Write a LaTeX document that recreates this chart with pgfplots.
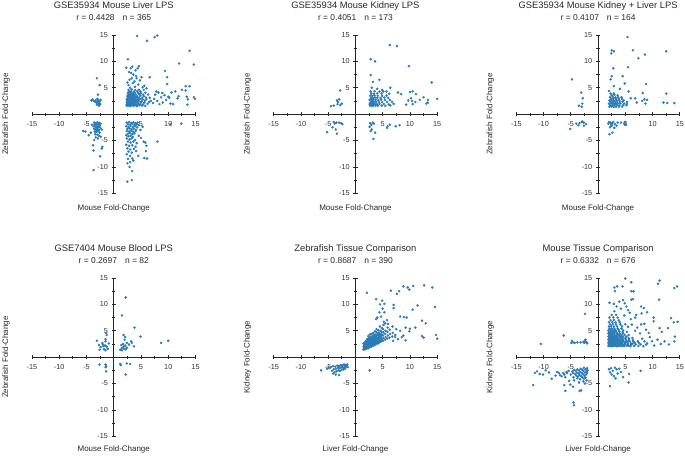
\documentclass[border=0pt]{standalone}
\usepackage{fontspec}
\setmainfont{Liberation Sans}
\usepackage{pgfplots}
\pgfplotsset{compat=1.18}
\definecolor{dotblue}{RGB}{44,123,182}
\definecolor{txt}{RGB}{40,40,40}
\newcommand\ftitle{\fontsize{9.4}{11}\selectfont}
\newcommand\fr{\fontsize{8.5}{10}\selectfont}
\newcommand\flab{\fontsize{8}{9.6}\selectfont}
\pgfplotsset{panel/.style={
  scale only axis, width=163.5bp, height=158.3bp,
  xmin=-15,xmax=15,ymin=-15,ymax=15,
  axis lines=middle, axis line style={-, line width=0.8bp, black!85},
  xtick={-15,-10,-5,5,10,15}, xticklabels={-15,-10,-5,5,10,15},
  ytick={-15,-10,-5,5,10,15}, yticklabels={-15,-10,-5,5,10,15},
  minor xtick={-12.5,-7.5,-2.5,2.5,7.5,12.5},
  minor ytick={-12.5,-7.5,-2.5,2.5,7.5,12.5},
  tick align=center, major tick length=4.5bp, minor tick length=3.2bp,
  every tick/.style={black!85, line width=0.8bp},
  tick label style={font=\fontsize{7.3}{8.5}\selectfont, text=black!80},
  xticklabel style={yshift=-2bp},
  clip=false, anchor=south west,
},
dots/.style={color=dotblue, only marks, mark=*, mark size=1.05bp, mark options={draw=none, fill=dotblue}}}
\begin{document}
\begin{tikzpicture}
\path[use as bounding box] (0,0) rectangle (685bp,457bp);
% ---------- Panel 1
\begin{axis}[panel, at={(32bp,263.7bp)}]
\addplot[dots] coordinates {
(4.3,14.8)(6.1,13.9)(7.5,14.6)(8.0,14.9)(13.9,12.0)(14.7,9.4)(12.0,9.6)(2.6,10.4)(2.3,8.8)(3.1,8.7)
(4.0,8.3)(4.6,9.1)(4.4,8.7)(3.4,9.0)(6.6,7.0)(9.4,8.2)(9.8,7.0)(9.8,5.7)(13.2,5.3)(13.9,5.3)
(13.2,4.5)(3.6,7.5)(3.3,6.8)(2.9,6.5)(3.8,6.2)(4.1,7.2)(5.1,7.0)(3.5,5.9)(4.5,5.6)(2.7,5.5)
(5.6,5.4)(3.9,5.2)(4.8,6.4)(3.0,5.0)(6.0,4.9)(5.3,5.1)(2.5,6.0)(4.2,6.8)(3.2,7.8)(2.8,8.0)
(2.4,1.55)(2.7,1.65)(3.0,1.5)(3.3,1.7)(3.6,1.58)(3.9,1.66)(4.3,1.52)(4.7,1.7)(5.2,1.6)(5.8,1.55)
(2.5,1.92)(2.8,1.85)(3.1,1.98)(3.4,1.88)(3.7,1.95)(4.0,1.84)(4.4,1.96)(4.9,1.9)(5.4,1.86)(6.2,1.95)
(2.4,2.2)(2.6,2.28)(2.9,2.15)(3.2,2.25)(3.5,2.18)(3.8,2.3)(4.1,2.2)(4.5,2.14)(5.0,2.26)(5.6,2.2)(6.5,2.3)
(2.5,2.5)(2.8,2.44)(3.0,2.58)(3.3,2.48)(3.6,2.55)(3.9,2.45)(4.2,2.6)(4.6,2.5)(5.1,2.42)(5.7,2.56)(6.8,2.5)
(2.4,2.82)(2.7,2.76)(3.1,2.86)(3.4,2.78)(3.7,2.9)(4.0,2.8)(4.4,2.74)(4.8,2.88)(5.3,2.8)(6.0,2.84)
(2.6,3.1)(2.9,3.16)(3.2,3.05)(3.5,3.14)(3.8,3.08)(4.2,3.18)(4.6,3.1)(5.2,3.04)(5.9,3.15)(6.6,3.1)
(2.5,3.42)(2.8,3.36)(3.1,3.46)(3.4,3.38)(3.8,3.44)(4.3,3.35)(4.9,3.45)(5.5,3.4)
(2.7,3.7)(3.0,3.76)(3.3,3.66)(3.7,3.74)(4.1,3.68)(4.7,3.75)(5.4,3.7)(6.3,3.72)
(2.6,4.0)(3.0,4.06)(3.5,3.96)(3.9,4.04)(4.5,4.0)(5.0,3.95)(5.8,4.05)
(2.8,4.3)(3.2,4.36)(3.7,4.26)(4.3,4.34)(4.9,4.3)(2.7,4.6)(3.3,4.66)(3.9,4.56)(4.6,4.62)(5.5,4.6)
(2.55,2.0)(2.85,2.35)(3.15,2.65)(3.45,2.05)(3.75,2.4)(2.65,3.0)(2.95,3.3)(3.25,2.9)(3.55,3.55)(3.05,1.75)
(3.35,2.1)(2.45,2.65)(3.65,2.75)(3.85,3.25)(4.25,2.35)(4.55,2.95)(2.75,3.55)(3.15,3.95)(4.05,1.75)(2.35,1.75)
(7.8,4.3)(8.2,4.1)(8.7,3.2)(8.9,4.0)(9.3,3.6)(9.6,2.7)(10.0,3.3)(10.2,3.1)(10.4,2.0)(10.9,1.9)
(11.3,4.3)(11.7,3.0)(12.5,4.6)(13.4,3.3)(13.6,2.8)(13.5,1.8)(14.7,3.2)(14.9,2.9)(8.0,2.5)(7.4,2.9)
(9.0,2.2)(10.6,4.1)(11.9,3.4)(7.6,3.7)(7.2,2.1)(8.4,1.9)
(-4.1,2.6)(-3.9,2.8)(-3.7,2.5)(-3.0,2.9)(-2.8,2.6)(-2.6,2.4)(-3.2,2.2)(-2.9,2.0)(-2.5,1.9)(-3.1,1.8)
(-2.7,2.2)(-3.3,2.6)(-2.4,2.7)(-3.5,2.4)(-2.6,1.8)(-3.1,6.8)(-2.6,5.5)(-2.9,3.7)(-2.9,2.4)(-2.7,1.6)
(-3.6,-1.6)(-3.3,-1.7)(-3.0,-1.55)(-2.7,-1.65)(-2.4,-1.8)(-3.5,-2.0)(-3.2,-2.1)(-2.9,-1.95)(-2.6,-2.15)(-3.4,-2.4)
(-3.1,-2.5)(-2.8,-2.35)(-2.5,-2.55)(-3.6,-2.8)(-3.3,-2.9)(-3.0,-2.75)(-2.7,-3.0)(-3.5,-3.3)(-3.2,-3.4)(-2.9,-3.2)
(-2.6,-3.5)(-3.4,-3.8)(-3.0,-3.9)(-2.7,-4.1)(-3.3,-4.4)(-2.9,-4.6)(-3.6,-4.9)(-2.4,-4.3)(-2.2,-2.9)(-3.7,-2.3)
(-2.8,-1.8)(-3.1,-3.1)(-5.2,-3.3)(-4.6,-4.0)(-5.6,-3.2)(-3.7,-6.9)(-2.5,-8.0)(-2.1,-6.2)(-3.8,-5.9)(-2.2,-6.5)
(-3.7,-10.6)(-4.2,-3.5)(-4.0,-2.0)
(2.4,-1.6)(2.8,-1.5)(3.2,-1.65)(3.6,-1.55)(4.0,-1.7)(4.4,-1.6)(2.6,-1.9)(3.0,-2.0)(3.4,-1.85)(3.8,-2.05)
(4.2,-1.95)(4.6,-2.1)(2.3,-2.3)(2.7,-2.4)(3.1,-2.25)(3.5,-2.45)(3.9,-2.3)(4.3,-2.5)(2.5,-2.8)(2.9,-2.7)
(3.3,-2.9)(3.7,-2.75)(4.1,-2.95)(2.4,-3.2)(2.8,-3.3)(3.2,-3.15)(3.6,-3.35)(4.0,-3.2)(2.6,-3.7)(3.0,-3.6)
(3.4,-3.8)(3.8,-3.65)(2.3,-4.0)(2.7,-4.2)(3.1,-4.1)(3.5,-4.3)
(2.4,-4.6)(2.9,-4.8)(3.3,-4.6)(3.9,-4.9)(2.6,-5.2)(3.1,-5.4)(3.6,-5.2)(4.2,-5.5)(2.3,-5.8)(2.8,-6.0)
(3.4,-5.9)(4.0,-6.2)(2.5,-6.5)(3.0,-6.7)(3.7,-6.6)(2.7,-7.1)(3.3,-7.3)(4.1,-7.0)(2.4,-7.6)(3.0,-7.9)
(2.6,-8.5)(3.4,-8.4)(2.5,-9.3)(3.0,-9.1)(3.6,-8.8)(3.4,-10.8)(2.5,-12.8)(3.3,-12.5)(2.9,-10.0)(4.5,-7.9)
(5.5,-5.2)(5.8,-5.4)(6.0,-6.0)(5.9,-7.0)(6.1,-8.4)(5.6,-8.3)(8.0,-5.2)(4.9,-3.0)(5.0,-4.5)(4.6,-4.1)
(5.3,-2.4)(10.4,-1.9)(12.4,-1.8)
};
\node[anchor=base,font=\ftitle,text=txt] at ([yshift=26.7bp]rel axis cs:0.5,1) {GSE35934 Mouse Liver LPS};
\node[anchor=base,font=\fr,text=txt] at ([yshift=14.3bp]rel axis cs:0.5,1) {r = 0.4428\hspace{8bp}n = 365};
\node[anchor=base,font=\flab,text=txt] at ([yshift=-17.5bp]rel axis cs:0.5,0) {Mouse Fold-Change};
\node[anchor=base,font=\flab,text=txt,rotate=90] at ([xshift=-24bp]rel axis cs:0,0.5) {Zebrafish Fold-Change};
\end{axis}
% ---------- Panel 2
\begin{axis}[panel, at={(273.7bp,263.7bp)}]
\addplot[dots] coordinates {
(6.3,13.1)(7.6,12.9)(2.8,10.4)(3.6,10.0)(9.8,9.1)(2.8,7.4)(3.2,6.1)(4.4,6.5)(14.0,6.0)(6.4,5.0)
(3.0,5.0)(4.0,4.8)(4.9,4.6)(5.7,4.3)(7.8,4.1)(8.4,3.8)(10.0,4.2)(10.5,4.3)(11.1,3.8)(12.5,3.2)
(13.3,2.7)(13.3,2.2)(15.0,2.9)(13.0,2.0)(10.2,3.0)(9.7,2.6)(10.4,2.5)(11.0,2.3)(11.8,2.7)(9.3,1.8)(10.5,1.9)
(2.7,1.6)(3.0,1.55)(3.3,1.65)(3.7,1.6)(4.1,1.58)(4.8,1.62)(5.5,1.56)(6.4,1.64)
(2.6,1.9)(2.9,1.95)(3.2,1.86)(3.5,1.92)(3.9,1.88)(4.4,1.94)(5.2,1.9)(6.1,1.85)(7.0,1.95)
(2.8,2.3)(3.1,2.25)(3.4,2.35)(3.8,2.28)(4.3,2.32)(4.9,2.26)(5.8,2.3)(6.7,2.34)
(2.6,2.7)(3.0,2.66)(3.3,2.74)(3.7,2.7)(4.2,2.65)(4.7,2.75)(5.4,2.7)(6.3,2.68)
(2.9,3.1)(3.2,3.06)(3.6,3.14)(4.0,3.1)(4.6,3.05)(5.3,3.15)(6.0,3.1)
(2.7,3.5)(3.1,3.45)(3.5,3.55)(4.1,3.5)(4.9,3.46)(5.7,3.52)
(2.9,3.9)(3.4,3.86)(4.0,3.94)(4.8,3.9)(6.2,3.88)(2.8,4.3)(3.5,4.35)(4.4,4.25)(5.1,4.3)
(2.75,2.1)(3.05,2.5)(3.35,2.0)(2.85,2.9)(3.15,1.75)
(-2.8,4.5)(-3.0,2.8)(-3.2,2.3)(-3.3,1.9)(-2.8,1.7)(-4.0,1.6)(-4.5,1.5)(-2.5,2.0)(-3.4,2.6)
(-4.0,-1.5)(-3.5,-1.6)(-3.0,-1.6)(-2.6,-1.7)(-5.2,-3.4)(-3.6,-2.9)(-3.4,-3.7)(-4.2,-2.5)(-3.8,-1.8)(-2.4,-1.9)
(2.7,-1.7)(2.9,-2.0)(3.2,-1.6)(2.6,-2.4)(3.0,-2.9)(2.8,-3.2)(3.4,-1.8)(3.6,-3.5)(3.3,-4.7)(5.9,-2.3)
(6.3,-2.0)(7.4,-2.3)(8.1,-2.1)(5.8,-2.6)
};
\node[anchor=base,font=\ftitle,text=txt] at ([yshift=26.7bp]rel axis cs:0.5,1) {GSE35934 Mouse Kidney LPS};
\node[anchor=base,font=\fr,text=txt] at ([yshift=14.3bp]rel axis cs:0.5,1) {r = 0.4051\hspace{8bp}n = 173};
\node[anchor=base,font=\flab,text=txt] at ([yshift=-17.5bp]rel axis cs:0.5,0) {Mouse Fold-Change};
\node[anchor=base,font=\flab,text=txt,rotate=90] at ([xshift=-24bp]rel axis cs:0,0.5) {Zebrafish Fold-Change};
\end{axis}
% ---------- Panel 3
\begin{axis}[panel, at={(516.3bp,263.7bp)}]
\addplot[dots] coordinates {
(5.4,14.6)(2.5,12.1)(2.9,11.9)(2.4,11.5)(6.4,12.1)(12.5,11.9)(8.6,11.3)(7.4,10.6)(5.5,8.9)(2.8,8.7)
(2.5,7.2)(2.3,6.6)(4.5,7.2)(-4.8,6.6)(8.8,5.7)(4.9,5.8)(2.9,5.3)(4.0,4.8)(2.0,4.4)(-3.1,4.1)
(-2.8,3.0)(12.5,3.9)(8.2,4.0)(5.6,4.3)(-2.9,2.0)(-3.0,1.4)(-3.5,1.6)(12.0,2.2)(12.7,2.1)(14.0,2.1)
(8.5,2.8)(9.0,2.7)(8.7,2.0)(8.1,2.5)(6.0,3.0)(6.8,3.0)(7.1,2.2)(5.3,1.9)
(2.1,1.4)(2.5,1.45)(2.9,1.36)(3.3,1.42)(3.8,1.38)(4.4,1.44)
(2.2,1.7)(2.6,1.66)(3.0,1.74)(3.4,1.7)(3.9,1.65)(4.6,1.72)(5.2,1.68)
(2.0,2.0)(2.4,2.05)(2.8,1.96)(3.2,2.02)(3.6,1.98)(4.1,2.04)(4.8,2.0)
(2.3,2.3)(2.7,2.26)(3.1,2.34)(3.5,2.3)(4.0,2.25)(4.5,2.35)(5.3,2.3)
(2.1,2.6)(2.5,2.64)(2.9,2.56)(3.4,2.62)(3.9,2.58)(4.7,2.6)
(2.4,2.9)(2.8,2.94)(3.3,2.86)(3.8,2.92)(4.4,2.9)
(2.2,3.2)(2.7,3.25)(3.2,3.16)(3.7,3.22)(4.3,3.2)(2.5,3.6)(3.0,3.65)(3.6,3.56)(2.3,3.9)(2.9,3.95)
(-3.0,-1.5)(-2.6,-1.6)(-3.4,-1.7)(-2.2,-1.9)(-3.6,-2.1)(-4.0,-1.8)(-2.6,-2.2)(-5.1,-2.8)(-2.9,-1.4)
(2.0,-1.5)(2.3,-1.6)(2.6,-1.8)(2.8,-1.5)(3.1,-1.9)(2.5,-2.2)(2.2,-2.5)(3.4,-2.2)(4.2,-1.6)(4.8,-1.8)
(5.1,-2.0)(5.0,-1.5)(3.6,-1.6)(2.1,-3.8)(2.6,-3.5)(3.0,-2.6)(2.4,-2.0)(1.9,-1.8)
};
\node[anchor=base,font=\ftitle,text=txt] at ([yshift=26.7bp]rel axis cs:0.5,1) {GSE35934 Mouse Kidney + Liver LPS};
\node[anchor=base,font=\fr,text=txt] at ([yshift=14.3bp]rel axis cs:0.5,1) {r = 0.4107\hspace{8bp}n = 164};
\node[anchor=base,font=\flab,text=txt] at ([yshift=-17.5bp]rel axis cs:0.5,0) {Mouse Fold-Change};
\node[anchor=base,font=\flab,text=txt,rotate=90] at ([xshift=-24bp]rel axis cs:0,0.5) {Zebrafish Fold-Change};
\end{axis}
% ---------- Panel 4
\begin{axis}[panel, at={(32bp,20.7bp)}]
\addplot[dots] coordinates {
(2.2,11.3)(1.5,7.9)(3.8,5.6)(4.9,3.9)(8.7,2.7)(10.0,3.1)(1.8,4.2)(2.1,3.8)(2.0,3.3)(3.2,3.0)
(3.3,2.7)(2.4,2.7)(3.7,2.05)(1.4,2.3)(1.8,2.0)(2.1,2.2)(1.5,1.7)(1.9,1.6)(1.2,1.4)(2.4,1.8)
(1.7,2.5)(2.8,2.4)(1.5,1.3)(2.2,1.5)
(-1.4,4.6)(-1.3,4.2)(-1.5,3.4)(-1.5,3.0)(-3.1,3.1)(-2.1,2.7)(-2.0,2.4)(-1.6,2.2)(-1.3,2.0)(-2.4,1.9)
(-1.1,1.6)(-1.8,1.5)(-2.6,1.4)(-1.5,1.3)(-1.9,2.1)(-0.9,2.6)(-2.7,2.3)
(-2.6,-1.4)(-1.5,-1.4)(-1.4,-1.7)(-1.5,-1.9)(-1.4,-2.7)(1.2,-1.3)(1.3,-1.5)(2.4,-1.2)(3.0,-1.3)(2.2,-3.3)
};
\node[anchor=base,font=\ftitle,text=txt] at ([yshift=26.7bp]rel axis cs:0.5,1) {GSE7404 Mouse Blood LPS};
\node[anchor=base,font=\fr,text=txt] at ([yshift=14.3bp]rel axis cs:0.5,1) {r = 0.2697\hspace{8bp}n = 82};
\node[anchor=base,font=\flab,text=txt] at ([yshift=-15bp]rel axis cs:0.5,0) {Mouse Fold-Change};
\node[anchor=base,font=\flab,text=txt,rotate=90] at ([xshift=-24bp]rel axis cs:0,0.5) {Zebrafish Fold-Change};
\end{axis}
% ---------- Panel 5
\begin{axis}[panel, at={(273.7bp,20.7bp)}]
\addplot[dots] coordinates {
(2.1,12.2)(3.8,11.0)(4.9,10.7)(5.3,10.1)(4.5,10.0)(6.5,12.6)(7.6,12.0)(8.0,12.5)(8.8,13.4)(9.6,13.2)
(9.9,12.8)(10.6,13.5)(12.6,13.6)(14.1,13.2)(14.6,9.5)(11.4,9.8)(10.5,9.0)(7.0,9.9)(7.0,9.3)(5.0,9.2)
(4.4,8.5)(5.3,8.5)(8.2,7.7)(8.9,7.6)(9.4,7.5)(4.0,7.5)(4.7,7.7)(3.8,7.2)(5.2,6.7)(6.0,6.3)
(12.2,6.9)(12.9,6.4)(11.0,5.6)(10.0,5.4)(9.2,5.6)(9.9,4.9)(8.2,5.0)(7.5,5.3)(12.2,4.0)(14.8,4.2)
(15.0,3.5)(12.5,3.7)(9.2,3.2)(8.5,3.8)(7.8,3.4)(8.8,4.1)(6.8,5.8)(5.8,7.0)(7.3,3.8)(6.9,3.1)
(1.45,1.4)(1.55,1.7)(1.5,2.0)(1.58,2.3)(1.48,2.6)
(1.75,1.5)(1.85,1.8)(1.78,2.1)(1.82,2.4)(1.76,2.7)(1.84,3.0)
(2.05,1.6)(2.15,1.9)(2.08,2.2)(2.12,2.5)(2.06,2.8)(2.14,3.1)(2.1,3.4)
(2.35,1.7)(2.45,2.0)(2.38,2.3)(2.42,2.6)(2.36,2.9)(2.44,3.2)(2.4,3.6)(2.37,4.0)
(2.65,1.9)(2.75,2.2)(2.68,2.5)(2.72,2.8)(2.66,3.1)(2.74,3.4)(2.7,3.8)(2.67,4.3)
(2.95,2.0)(3.05,2.3)(2.98,2.6)(3.02,2.9)(2.96,3.2)(3.04,3.5)(3.0,3.9)(2.97,4.4)
(3.25,2.2)(3.35,2.5)(3.28,2.8)(3.32,3.1)(3.26,3.4)(3.34,3.7)(3.3,4.1)(3.27,4.6)
(3.55,2.3)(3.65,2.6)(3.58,2.9)(3.62,3.2)(3.56,3.5)(3.64,3.9)(3.6,4.3)(3.57,4.9)
(3.85,2.5)(3.95,2.8)(3.88,3.1)(3.92,3.4)(3.86,3.8)(3.94,4.2)(3.9,4.7)(3.87,5.3)
(4.15,2.6)(4.25,2.9)(4.18,3.3)(4.22,3.7)(4.16,4.1)(4.24,4.6)(4.2,5.1)
(4.45,2.8)(4.55,3.1)(4.48,3.5)(4.52,3.9)(4.46,4.4)(4.54,5.0)(4.5,5.8)
(4.75,3.0)(4.85,3.4)(4.78,3.8)(4.82,4.3)(4.76,4.8)(4.84,5.5)
(5.05,3.1)(5.15,3.6)(5.08,4.1)(5.12,4.7)(5.06,5.3)(5.14,6.1)
(5.45,3.3)(5.55,3.8)(5.48,4.4)(5.52,5.0)(5.46,6.4)
(5.85,3.5)(5.95,4.1)(5.88,4.8)(5.92,5.6)(6.25,3.7)(6.35,4.4)(6.28,5.2)(6.75,3.9)(6.85,4.6)(7.3,4.2)
(1.65,1.55)(1.95,1.75)(2.25,1.85)(2.55,2.15)(2.85,2.45)(3.15,2.65)(2.0,2.55)(2.3,2.75)(2.6,3.25)(2.9,3.65)
(1.6,1.85)(1.9,2.05)(2.2,2.35)(2.5,2.45)(2.8,2.65)(3.1,2.85)(3.4,3.0)(3.7,3.3)(4.0,3.6)(4.3,3.85)
(4.6,4.15)(1.7,2.55)(2.0,2.85)(2.3,3.3)(2.6,3.5)(2.9,3.05)(3.2,3.3)(3.5,3.75)(3.8,4.0)(4.1,4.4)
(2.25,2.05)(2.55,1.95)(2.85,2.15)(3.15,2.35)(3.45,2.6)(3.75,2.7)(4.05,2.95)(4.35,3.15)
(-1.5,-1.4)(-1.8,-1.5)(-2.1,-1.4)(-2.4,-1.6)(-2.7,-1.5)(-3.0,-1.7)(-3.3,-1.6)(-3.7,-1.8)(-4.1,-1.7)(-4.5,-1.9)
(-4.9,-2.0)(-1.7,-1.8)(-2.0,-1.9)(-2.3,-2.0)(-2.6,-1.9)(-2.9,-2.1)(-3.2,-2.0)(-3.6,-2.2)(-4.0,-2.3)(-1.9,-2.2)
(-2.2,-2.3)(-2.5,-2.4)(-2.8,-2.6)(-3.1,-2.5)(-3.5,-2.7)(-3.9,-2.9)(-4.3,-2.6)(-5.2,-2.2)(-6.3,-2.5)(-3.6,-3.3)
(-3.0,-3.4)(-4.1,-3.1)(-1.6,-1.6)(-2.0,-1.6)(-1.4,-1.9)(2.6,-2.5)
};
\node[anchor=base,font=\ftitle,text=txt] at ([yshift=26.7bp]rel axis cs:0.5,1) {Zebrafish Tissue Comparison};
\node[anchor=base,font=\fr,text=txt] at ([yshift=14.3bp]rel axis cs:0.5,1) {r = 0.8687\hspace{8bp}n = 390};
\node[anchor=base,font=\flab,text=txt] at ([yshift=-15bp]rel axis cs:0.5,0) {Liver Fold-Change};
\node[anchor=base,font=\flab,text=txt,rotate=90] at ([xshift=-24bp]rel axis cs:0,0.5) {Kidney Fold-Change};
\end{axis}
% ---------- Panel 6
\begin{axis}[panel, at={(516.3bp,20.7bp)}]
\addplot[dots] coordinates {
(1.9,2.1)(2.2,2.12)(2.5,2.08)(2.8,2.1)(3.1,2.14)(3.4,2.06)(3.7,2.1)(4.0,2.12)(4.4,2.08)(4.8,2.1)(5.3,2.14)(5.9,2.06)(6.6,2.1)(7.4,2.12)(8.3,2.08)
(2.0,2.4)(2.3,2.42)(2.6,2.38)(2.9,2.4)(3.2,2.44)(3.5,2.36)(3.8,2.4)(4.2,2.42)(4.6,2.38)(5.0,2.4)(5.5,2.44)(6.1,2.36)(6.9,2.4)(7.8,2.42)(8.8,2.38)
(1.9,2.7)(2.2,2.72)(2.5,2.68)(2.8,2.7)(3.1,2.74)(3.4,2.66)(3.7,2.7)(4.0,2.72)(4.4,2.68)(4.9,2.7)(5.4,2.74)(6.0,2.66)(6.7,2.7)(7.5,2.72)
(2.0,3.0)(2.3,3.02)(2.6,2.98)(2.9,3.0)(3.2,3.04)(3.5,2.96)(3.9,3.0)(4.3,3.02)(4.7,2.98)(5.2,3.0)(5.8,3.04)(6.5,2.96)(7.3,3.0)
(1.9,3.3)(2.2,3.32)(2.5,3.28)(2.8,3.3)(3.1,3.34)(3.4,3.26)(3.8,3.3)(4.2,3.32)(4.6,3.28)(5.1,3.3)(5.7,3.34)(6.4,3.26)
(2.0,3.6)(2.3,3.62)(2.6,3.58)(2.9,3.6)(3.2,3.64)(3.6,3.56)(4.0,3.6)(4.5,3.62)(5.0,3.58)(5.6,3.6)(6.3,3.64)
(1.9,3.9)(2.2,3.92)(2.5,3.88)(2.8,3.9)(3.2,3.94)(3.6,3.86)(4.1,3.9)(4.6,3.92)(5.2,3.88)
(2.0,4.2)(2.3,4.22)(2.6,4.18)(3.0,4.2)(3.4,4.24)(3.8,4.16)(4.3,4.2)(4.9,4.22)(5.6,4.18)
(1.9,4.5)(2.2,4.52)(2.6,4.48)(3.0,4.5)(3.5,4.54)(4.0,4.46)(4.6,4.5)
(2.0,4.8)(2.4,4.82)(2.8,4.78)(3.3,4.8)(3.9,4.84)(4.5,4.76)(5.3,4.8)
(1.9,5.1)(2.3,5.12)(2.7,5.08)(3.2,5.1)(3.8,5.14)(4.6,5.06)
(2.1,5.4)(2.5,5.42)(3.0,5.38)(3.6,5.4)(4.3,5.44)
(2.0,5.8)(2.4,5.82)(2.9,5.78)(3.5,5.8)(4.4,5.84)(5.5,5.76)
(2.2,6.2)(2.7,6.22)(3.3,6.18)(4.1,6.2)(5.0,6.24)(6.2,6.16)
(2.0,6.6)(2.6,6.62)(3.2,6.58)(4.0,6.6)
(2.3,7.0)(2.9,7.02)(3.8,6.98)(2.1,7.5)(2.8,7.52)(3.6,7.48)(2.5,8.0)(3.3,8.02)
(2.05,2.25)(2.35,2.55)(2.65,2.25)(2.95,2.55)(3.25,2.25)(3.55,2.55)(3.85,2.25)(4.15,2.55)(4.55,2.25)(4.95,2.55)
(5.6,2.25)(6.3,2.55)(2.05,2.85)(2.45,3.15)(2.75,2.85)(3.05,3.15)(3.35,2.85)(3.65,3.15)(4.1,2.85)(4.5,3.15)
(5.0,2.85)(5.6,3.15)(2.15,3.45)(2.55,3.75)(2.95,3.45)(3.35,3.75)(3.75,3.45)(4.25,3.75)(2.1,4.05)(2.6,4.35)
(3.1,4.05)(3.6,4.35)(2.25,4.65)(2.9,4.95)
(8.5,3.0)(9.0,2.6)(9.5,3.8)(9.9,3.0)(10.9,3.3)(12.2,3.0)(14.0,3.0)(14.1,3.9)(11.5,2.5)(13.0,2.4)
(10.3,2.2)(8.1,3.5)(7.7,4.5)(8.8,5.2)(9.3,4.6)(11.7,4.8)(12.8,5.5)(7.2,5.6)(6.8,5.0)(7.9,6.2)(8.5,6.3)
(5.0,14.9)(6.1,14.2)(3.0,13.2)(3.5,13.4)(4.5,13.4)(11.0,13.9)(11.3,14.5)(14.0,13.1)(14.5,13.4)(11.2,10.9)
(2.1,10.3)(2.9,10.1)(3.4,9.6)(3.9,10.5)(4.6,10.8)(4.9,10.2)(6.1,10.9)(6.4,11.0)(6.1,12.5)(6.5,12.5)
(7.9,9.6)(8.4,9.3)(10.2,7.5)(10.2,6.8)(11.3,5.5)(13.4,7.4)(13.9,6.6)(14.6,6.7)(3.1,12.5)(5.5,8.9)
(4.2,9.2)(5.2,9.6)(7.0,8.0)(6.8,7.5)(9.0,8.5)(8.0,8.3)(5.8,8.4)(3.0,8.7)(4.8,7.9)(6.0,7.2)
(-2.4,8.2)(-6.3,4.1)(-10.5,2.5)(-4.9,2.7)(-4.6,2.8)(-4.3,2.7)(-3.8,2.8)(-3.2,2.8)(-2.7,2.9)(-2.4,3.0)
(-2.5,2.7)(-2.1,2.8)(-2.0,2.6)(-4.8,3.1)(-2.3,3.3)
(-2.0,-2.1)(-2.3,-2.3)(-2.6,-2.0)(-2.9,-2.4)(-3.2,-2.2)(-3.5,-2.5)(-3.8,-2.3)(-4.1,-2.6)(-4.4,-2.4)(-4.7,-2.7)
(-2.1,-2.7)(-2.4,-2.9)(-2.7,-2.6)(-3.0,-3.0)(-3.3,-2.8)(-3.6,-3.1)(-3.9,-2.9)(-4.2,-3.2)(-4.6,-3.0)(-5.0,-3.3)
(-2.2,-3.3)(-2.5,-3.5)(-2.8,-3.2)(-3.1,-3.6)(-3.4,-3.4)(-3.7,-3.7)(-4.0,-3.5)(-4.5,-3.8)(-2.3,-3.9)(-2.6,-4.1)
(-2.9,-3.8)(-3.3,-4.2)(-3.8,-4.0)(-2.1,-4.4)(-2.7,-4.6)(-3.5,-4.8)(-2.4,-5.0)(-2.0,-3.0)(-1.9,-2.5)(-5.4,-2.6)
(-5.7,-3.0)(-6.0,-3.8)(-6.2,-3.3)(-6.4,-3.0)(-6.7,-3.6)(-7.0,-3.4)(-7.2,-3.0)(-7.5,-2.8)(-7.8,-3.5)(-9.0,-2.9)
(-8.5,-4.1)(-5.8,-2.8)(-5.1,-5.2)(-4.6,-5.6)(-4.4,-4.4)(-6.2,-5.3)(-6.0,-6.4)(-3.1,-6.3)(-3.4,-6.4)(-4.5,-8.6)
(-4.4,-9.1)(-5.3,-4.5)(-11.9,-5.3)(-11.2,-2.7)(-10.7,-3.2)(-11.6,-3.0)(-10.1,-3.3)(-9.6,-2.5)
(2.0,-2.3)(2.4,-2.1)(2.2,-2.9)(2.5,-3.3)(2.7,-2.6)(3.1,-2.0)(3.4,-2.3)(3.6,-3.1)(3.9,-2.2)(2.2,-5.5)
(3.2,-4.0)(4.6,-3.8)(5.7,-3.2)(5.6,-4.8)(7.8,-2.6)(2.9,-3.6)(4.2,-2.8)
};
\node[anchor=base,font=\ftitle,text=txt] at ([yshift=26.7bp]rel axis cs:0.5,1) {Mouse Tissue Comparison};
\node[anchor=base,font=\fr,text=txt] at ([yshift=14.3bp]rel axis cs:0.5,1) {r = 0.6332\hspace{8bp}n = 676};
\node[anchor=base,font=\flab,text=txt] at ([yshift=-15bp]rel axis cs:0.5,0) {Liver Fold-Change};
\node[anchor=base,font=\flab,text=txt,rotate=90] at ([xshift=-24bp]rel axis cs:0,0.5) {Kidney Fold-Change};
\end{axis}
\end{tikzpicture}
\end{document}
